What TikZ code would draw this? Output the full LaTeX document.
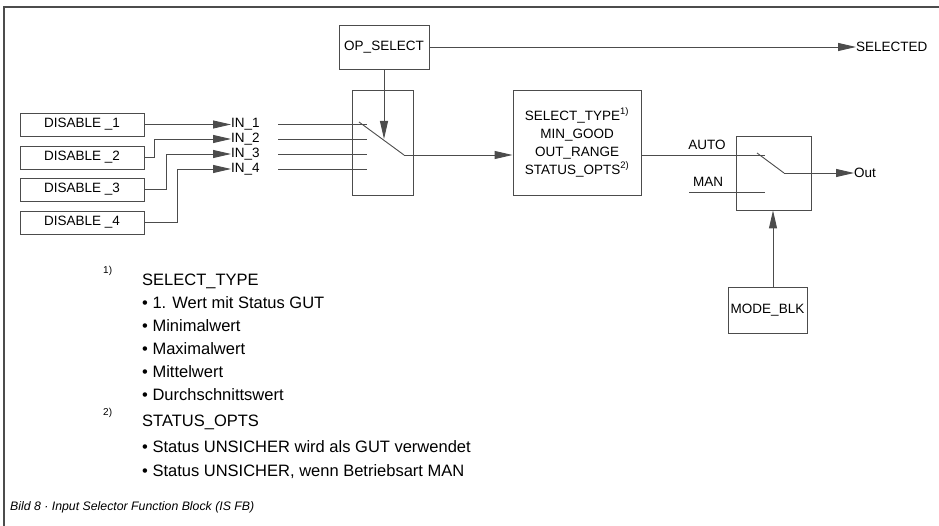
\documentclass[tikz,border=0pt]{standalone}
\usepackage{fontspec}
\setmainfont{Liberation Sans}
\usetikzlibrary{arrows.meta}
\definecolor{ln}{gray}{0.3}
\tikzset{
  x=1pt, y=-1pt,
  box/.style={draw=ln, line width=0.9pt, inner sep=0pt, font=\fontsize{13.5}{15}\selectfont},
  lbl/.style={inner sep=0pt, font=\fontsize{13.5}{15}\selectfont},
  conn/.style={draw=ln, line width=0.9pt},
  arr/.style={conn, -{Triangle[length=18pt,width=8pt]}},
  fn/.style={inner sep=0pt, anchor=west, font=\fontsize{16.5}{18}\selectfont},
  fnmark/.style={inner sep=0pt, anchor=west, font=\fontsize{10}{12}\selectfont},
}
\begin{document}
\begin{tikzpicture}
\useasboundingbox (0,0) rectangle (939,526);
% frame
\draw[ln, line width=1.6pt] (4,526) -- (4,7) -- (939,7);

% boxes
\node[box, minimum width=90pt, minimum height=44pt] (opsel) at (384,47) {OP\_SELECT};
\node[box, minimum width=61pt, minimum height=105pt] (sw1) at (382.5,142.5) {};
\node[box, minimum width=128pt, minimum height=105pt, align=center,
      font=\fontsize{13.5}{18}\selectfont] (sel) at (577,142.5)
      {SELECT\_TYPE\textsuperscript{1)}\\MIN\_GOOD\\OUT\_RANGE\\STATUS\_OPTS\textsuperscript{2)}};
\node[box, minimum width=75pt, minimum height=74pt] (sw2) at (773.5,173) {};
\node[box, minimum width=79pt, minimum height=46pt] (mode) at (767.5,310) {MODE\_BLK};

\node[box, minimum width=124pt, minimum height=23pt] (dis1) at (82,124.5) {DISABLE \_1};
\node[box, minimum width=124pt, minimum height=23pt] (dis2) at (82,157.5) {DISABLE \_2};
\node[box, minimum width=124pt, minimum height=23pt] (dis3) at (82,189.5) {DISABLE \_3};
\node[box, minimum width=124pt, minimum height=23pt] (dis4) at (82,222.5) {DISABLE \_4};

% IN labels
\node[lbl, anchor=west] (in1) at (231,124.5) {IN\_1};
\node[lbl, anchor=west] (in2) at (231,139) {IN\_2};
\node[lbl, anchor=west] (in3) at (231,154) {IN\_3};
\node[lbl, anchor=west] (in4) at (231,169) {IN\_4};

% disable connectors
\draw[arr] (dis1.east) -- (in1.west);
\draw[arr] (dis2.east) -- (154,157.5) -- (154,139) -- (in2.west);
\draw[arr] (dis3.east) -- (166,189.5) -- (166,154) -- (in3.west);
\draw[arr] (dis4.east) -- (177,222.5) -- (177,169) -- (in4.west);

% inputs into switch 1
\coordinate (i1) at (367,124.5);
\coordinate (i2) at (367,139);
\coordinate (i3) at (367,154);
\coordinate (i4) at (367,169);
\draw[conn] (278,124.5) -- (i1);
\draw[conn] (278,139) -- (i2);
\draw[conn] (278,154) -- (i3);
\draw[conn] (278,169) -- (i4);
\coordinate (s1a) at (359,122);
\coordinate (s1b) at (404,155);
\draw[conn] (s1a) -- (s1b);
\draw[arr] (s1b) -- (sel.west |- s1b);

% OP_SELECT
\node[lbl, anchor=west] (selected) at (856,47) {SELECTED};
\draw[arr] (opsel.east) -- (selected.west);
\draw[arr] (opsel.south) -- (384,139);

% switch 2
\node[lbl, anchor=base] (auto) at (707,150) {AUTO};
\node[lbl, anchor=base] (man) at (708,187) {MAN};
\coordinate (aend) at (765,155);
\draw[conn] (sel.east |- aend) -- (aend);
\draw[conn] (689,192) -- (765,192);
\coordinate (s2a) at (757,153);
\coordinate (s2b) at (784,173);
\draw[conn] (s2a) -- (s2b);
\node[lbl, anchor=west] (out) at (854,173) {Out};
\draw[arr] (s2b) -- (out.west);
\draw[arr] (mode.north -| 773,0) -- (sw2.south -| 773,0);

% footnotes
\node[fnmark] (m1) at (103,271) {1)};
\node[fn] (f1) at (142,281) {SELECT\_TYPE};
\node[fn] at (142,303) {• 1. Wert mit Status GUT};
\node[fn] at (142,326) {• Minimalwert};
\node[fn] at (142,349) {• Maximalwert};
\node[fn] at (142,372) {• Mittelwert};
\node[fn] at (142,395) {• Durchschnittswert};
\node[fnmark] (m2) at (103,413) {2)};
\node[fn] (f2) at (142,422) {STATUS\_OPTS};
\node[fn] at (142,447) {• Status UNSICHER wird als GUT verwendet};
\node[fn] at (142,472) {• Status UNSICHER, wenn Betriebsart MAN};

\node[inner sep=0pt, anchor=west, font=\fontsize{12.3}{15}\selectfont\itshape] (cap) at (10,507)
  {Bild 8 · Input Selector Function Block (IS FB)};
\end{tikzpicture}
\end{document}
